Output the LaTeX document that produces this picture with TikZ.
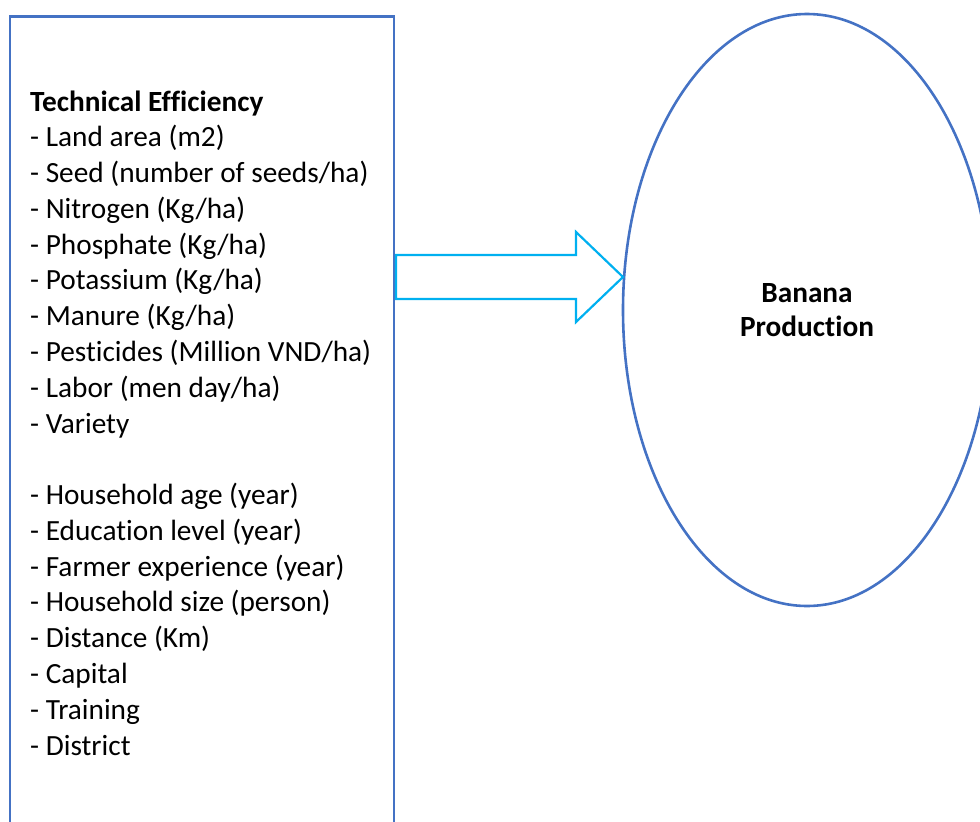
\documentclass[tikz,border=0pt]{standalone}
\usepackage{fontspec}
\setmainfont[Ligatures=NoCommon]{Carlito}
\usetikzlibrary{shapes.geometric}
\definecolor{boxblue}{HTML}{4472C4}
\definecolor{arrcyan}{HTML}{00B0F0}
\begin{document}
\begin{tikzpicture}[x=1pt,y=-1pt,
  outline/.style={draw=boxblue, line width=2.6pt},
  itemtext/.style={anchor=base west, inner sep=0pt, font=\fontsize{29.3}{35.7}\selectfont},
  titletext/.style={itemtext, font=\fontsize{29.3}{35.7}\selectfont\bfseries},
  ctrtext/.style={anchor=base, inner sep=0pt, font=\fontsize{29.3}{35}\selectfont\bfseries}]
\useasboundingbox (0,0) rectangle (980,822);
\clip (0,0) rectangle (980,822);
% left box
\draw[outline] (10,16.5) rectangle (394,850);
% ellipse
\node[outline, ellipse, minimum width=368pt, minimum height=592pt, inner sep=0pt] (prod) at (807,310) {};
\node[ctrtext] (banana) at (807,302.5) {Banana};
\node[ctrtext] (production) at (807,336.5) {Production};
\coordinate (tip) at (623,277);
% block arrow
\draw[draw=arrcyan, line width=2.2pt, line join=miter]
  (396,255) -- (576,255) -- (576,232) -- (tip) -- (576,322) -- (576,299) -- (396,299) -- cycle;
% texts
\node[titletext] (t0) at (30,111) {Technical Efficiency};
\foreach \i/\t in {1/{- Land area (m2)},2/{- Seed (number of seeds/ha)},3/{- Nitrogen (Kg/ha)},4/{- Phosphate (Kg/ha)},5/{- Potassium (Kg/ha)},6/{- Manure (Kg/ha)},7/{- Pesticides (Million VND/ha)},8/{- Labor (men day/ha)},9/{- Variety},11/{- Household age (year)},12/{- Education level (year)},13/{- Farmer experience (year)},14/{- Household size (person)},15/{- Distance (Km)},16/{- Capital},17/{- Training},18/{- District}}{
  \node[itemtext] (t\i) at (30,{111+35.78*\i}) {\t};
}
\end{tikzpicture}
\end{document}
